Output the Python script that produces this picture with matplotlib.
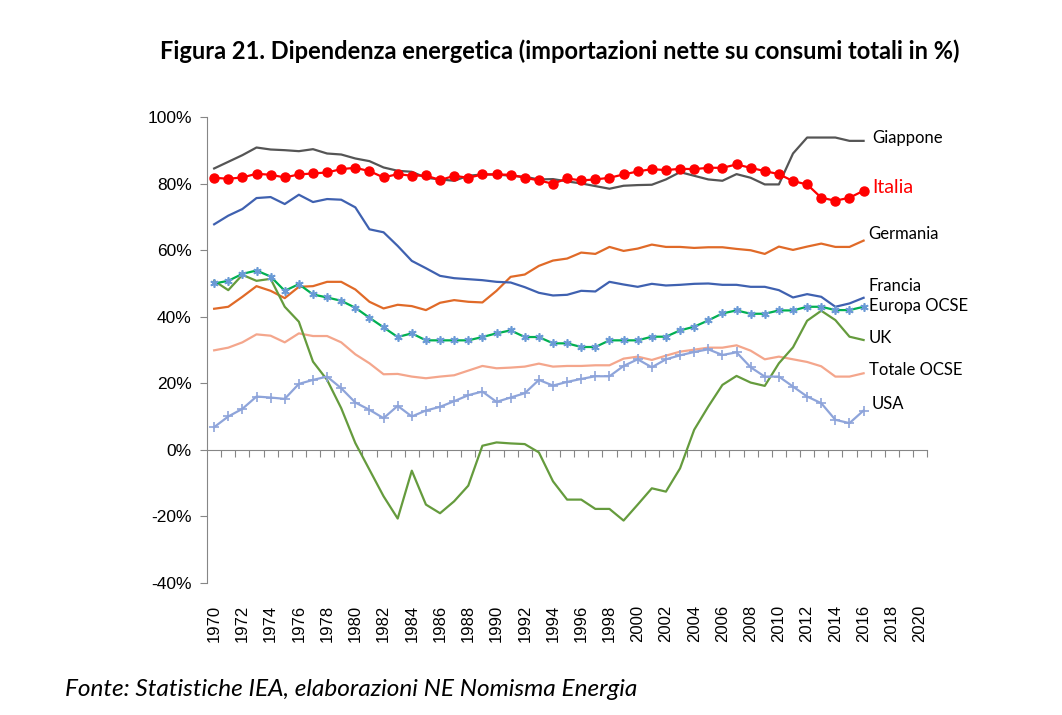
import matplotlib
matplotlib.use("Agg")
import matplotlib.pyplot as plt
from matplotlib.ticker import FuncFormatter, FixedLocator

years = list(range(1970, 2017))

giappone = [84.6, 86.6, 88.6, 90.9, 90.3, 90.1, 89.8, 90.4, 89.1, 88.8,
            87.6, 86.8, 84.9, 83.9, 83.6, 81.8, 81.3, 80.9, 82.4, 82.8,
            82.8, 82.4, 82.1, 81.3, 81.4, 80.7, 80.1, 79.3, 78.5, 79.4,
            79.6, 79.7, 81.3, 83.5, 82.4, 81.3, 80.9, 82.9, 81.8, 79.8,
            79.8, 89.1, 93.9, 93.9, 93.9, 92.9, 92.9]

italia = [81.8, 81.5, 81.9, 83.0, 82.7, 81.9, 82.8, 83.1, 83.4, 84.4,
          84.8, 83.8, 81.9, 82.9, 82.4, 82.5, 81.1, 82.4, 81.8, 82.8,
          82.8, 82.7, 81.8, 81.0, 80.0, 81.6, 81.0, 81.3, 81.8, 82.8,
          83.7, 84.4, 84.1, 84.5, 84.4, 84.8, 84.8, 85.8, 84.8, 83.8,
          82.9, 80.8, 79.8, 75.8, 74.9, 75.8, 77.9]

germania = [42.4, 43.0, 46.0, 49.2, 47.8, 45.6, 49.0, 49.2, 50.5, 50.5,
            48.2, 44.5, 42.5, 43.6, 43.2, 42.0, 44.2, 45.0, 44.5, 44.3,
            47.8, 52.0, 52.7, 55.3, 56.9, 57.5, 59.3, 58.9, 61.0, 59.8,
            60.5, 61.7, 61.0, 61.0, 60.7, 60.9, 60.9, 60.4, 60.0, 58.9,
            61.1, 60.1, 61.1, 62.0, 61.0, 61.0, 62.9]

francia = [67.8, 70.4, 72.4, 75.7, 76.0, 73.9, 76.7, 74.5, 75.4, 75.2,
           72.9, 66.3, 65.4, 61.3, 56.8, 54.6, 52.3, 51.6, 51.3, 51.0,
           50.5, 50.3, 48.9, 47.2, 46.4, 46.6, 47.8, 47.6, 50.5, 49.7,
           49.0, 49.9, 49.4, 49.6, 49.9, 50.0, 49.6, 49.6, 49.0, 49.0,
           48.0, 45.8, 46.8, 46.0, 43.0, 44.0, 45.7]

europa_ocse = [50.0, 50.8, 52.9, 53.9, 52.1, 47.8, 49.8, 46.7, 45.8, 44.8,
               42.7, 39.7, 36.8, 33.9, 35.0, 32.9, 32.9, 32.9, 32.9, 33.9,
               35.0, 35.9, 33.9, 33.9, 32.0, 32.0, 30.9, 30.9, 32.9, 32.9,
               32.9, 34.0, 34.0, 35.9, 37.0, 38.9, 41.0, 41.9, 40.9, 40.9,
               41.9, 41.9, 43.0, 43.0, 42.0, 42.0, 43.0]

uk = [50.8, 48.0, 52.6, 50.8, 51.4, 43.0, 38.5, 26.5, 21.0, 12.5,
      2.0, -6.0, -14.0, -20.7, -6.3, -16.5, -19.1, -15.5, -10.8, 1.2,
      2.2, 1.9, 1.7, -0.8, -9.5, -15.0, -15.0, -17.8, -17.8, -21.3,
      -16.5, -11.6, -12.6, -5.6, 6.0, 13.0, 19.5, 22.2, 20.2, 19.2,
      26.0, 30.8, 38.8, 41.8, 39.0, 34.0, 33.0]

totale_ocse = [29.9, 30.7, 32.3, 34.7, 34.3, 32.3, 35.0, 34.2, 34.2, 32.3,
               28.7, 26.0, 22.7, 22.8, 22.0, 21.5, 22.0, 22.4, 23.8, 25.2,
               24.5, 24.7, 25.0, 25.9, 25.0, 25.2, 25.2, 25.4, 25.4, 27.4,
               28.0, 27.0, 28.3, 29.5, 30.1, 30.7, 30.7, 31.4, 29.8, 27.2,
               28.0, 27.2, 26.4, 25.1, 22.0, 22.0, 23.0]

usa = [6.8, 10.0, 12.3, 16.0, 15.7, 15.3, 19.8, 21.0, 22.0, 18.5,
       14.2, 12.0, 9.5, 13.2, 10.0, 11.8, 12.9, 14.6, 16.4, 17.5,
       14.4, 15.7, 17.0, 21.0, 19.3, 20.4, 21.3, 22.1, 22.1, 25.2,
       27.2, 24.8, 27.2, 28.4, 29.4, 30.2, 28.5, 29.3, 24.8, 22.0,
       22.0, 19.0, 16.0, 14.0, 9.0, 8.0, 11.8]

series_labels = ["Giappone", "Italia", "Germania", "Francia", "Europa OCSE",
                 "UK", "Totale OCSE", "USA"]

x_label_years = list(range(1970, 2021, 2))
y_ticks = [-40, -20, 0, 20, 40, 60, 80, 100]

title = "Figura 21. Dipendenza energetica (importazioni nette su consumi totali in %)"
source = "Fonte: Statistiche IEA, elaborazioni NE Nomisma Energia"

fig = plt.figure(figsize=(10.62, 7.15), dpi=100)
ax = fig.add_axes([0.195, 0.185, 0.678, 0.651])

lw = 1.6
ax.plot(years, giappone, color="#555555", lw=lw, zorder=3)
ax.plot(years, germania, color="#E06A28", lw=lw, zorder=3)
ax.plot(years, francia, color="#3F61B0", lw=lw, zorder=3)
ax.plot(years, totale_ocse, color="#F4A68C", lw=lw, zorder=3)
ax.plot(years, uk, color="#659B3D", lw=lw, zorder=3)
ax.plot(years, usa, color="#8EA4DA", lw=lw, marker="+", markersize=7,
        markeredgewidth=1.2, zorder=3)
ax.plot(years, europa_ocse, color="#00B050", lw=lw, marker=(6, 2, 0),
        markersize=6, markeredgewidth=1.2, markeredgecolor="#6A9AD6",
        zorder=4)
ax.plot(years, italia, color="#FF0000", lw=lw, marker="o", markersize=6.5,
        markeredgecolor="#FF0000", zorder=5)

ax.set_xlim(1969.5, 2020.5)
ax.set_ylim(-40, 100)

axis_color = "#868686"
for s in ["top", "right"]:
    ax.spines[s].set_visible(False)
ax.spines["left"].set_color(axis_color)
ax.spines["bottom"].set_color(axis_color)
ax.spines["bottom"].set_position(("data", 0))

ax.yaxis.set_major_locator(FixedLocator(y_ticks))
ax.yaxis.set_major_formatter(FuncFormatter(lambda v, p: f"{int(v)}%"))
ax.tick_params(axis="y", direction="out", length=5, color=axis_color,
               labelsize=12.5, pad=6)

ax.xaxis.set_major_locator(FixedLocator([y + 0.5 for y in range(1970, 2021)]))
ax.tick_params(axis="x", which="major", direction="out", length=5,
               color=axis_color, labelbottom=False)

sec = ax.secondary_xaxis(0)
sec.set_xticks(x_label_years)
sec.set_xticklabels([str(y) for y in x_label_years], rotation=90)
sec.tick_params(length=0, labelsize=12, pad=16)
sec.spines["bottom"].set_visible(False)

for lab in ax.get_yticklabels() + sec.get_xticklabels():
    lab.set_fontfamily("Liberation Sans")

label_pos = [(2016.64, 93.7), (2016.64, 79.0), (2016.36, 64.9), (2016.36, 49.2),
             (2016.36, 43.2), (2016.36, 33.6), (2016.36, 24.0), (2016.56, 13.8)]
for name, (lx, ly) in zip(series_labels, label_pos):
    if name == "Italia":
        ax.text(lx, ly, name, color="#FF0000", fontsize=14, family="Lato",
                va="center", ha="left", clip_on=False)
    else:
        ax.text(lx, ly, name, color="black", fontsize=12, family="Lato",
                va="center", ha="left", clip_on=False)

fig.text(0.527, 0.928, title, ha="center", va="center", fontsize=17,
         fontweight="bold", family="Lato")
fig.text(0.061, 0.035, source, ha="left", va="center", fontsize=17.6,
         style="italic", family="Lato")

fig.savefig("out.png", dpi=100)
